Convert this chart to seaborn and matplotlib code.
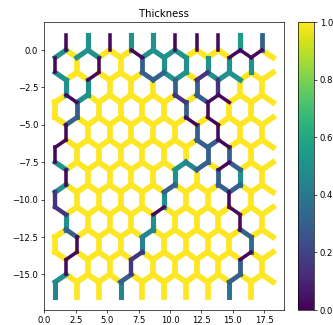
import numpy as np
import pandas as pd
import matplotlib
matplotlib.use("Agg")
import matplotlib.pyplot as plt
import seaborn as sns
from matplotlib.cm import ScalarMappable
from matplotlib.colors import Normalize

# ---- data: thickness of every beam of the honeycomb ----
# diagonal beams, one list per zig-zag row (20 beams each, left -> right)
diag_r0 = [.5, 1, .5, .5, 1, 1, 1, .02, .5, .5, .5, .5, 1, 1, 1, 1, .02, .02, .02, 1]
diag_r1 = [.5, 1, 1, .02, 1, 1, 1, 1, .3, .3, .5, .5, 1, .15, .5, .5, .5, 1, 1, 1]
diag_r2 = [1, .02, .5, 1, 1, 1, 1, 1, 1, 1, 1, .15, 1, .3, .02, .02, 1, 1, 1, 1]
diag_r3 = [1, .3, 1, 1, 1, 1, 1, 1, 1, 1, 1, 1, .02, 1, .02, 1, 1, 1, 1, 1]
diag_r4 = [.02, 1, 1, 1, 1, 1, 1, 1, 1, 1, 1, 1, 1, .3, .3, .02, 1, 1, 1, 1]
diag_r5 = [.5, 1, 1, 1, 1, 1, 1, 1, 1, 1, 1, .5, .45, .3, 1, .02, .3, 1, 1, 1]
diag_r6 = [.5, 1, 1, 1, 1, 1, 1, 1, 1, 1, .3, 1, 1, 1, 1, .3, .3, 1, 1, 1]
diag_r7 = [.15, 1, 1, 1, 1, 1, 1, 1, 1, .02, 1, 1, 1, 1, 1, 1, .02, 1, 1, 1]
diag_r8 = [1, .3, 1, 1, 1, 1, 1, 1, .45, 1, 1, 1, 1, 1, 1, 1, 1, .3, 1, 1]
diag_r9 = [1, .02, 1, 1, 1, 1, 1, .15, 1, 1, 1, 1, 1, 1, 1, 1, 1, .02, 1, 1]
diag_r10 = [.5, 1, 1, 1, 1, 1, .3, 1, 1, 1, 1, 1, 1, 1, 1, 1, .3, 1, 1, 1]

# vertical beams between zig-zag rows (10 each, left -> right)
vert_r0 = [.02, 1, .02, 1, .3, .5, .5, .5, .5, .5]
vert_r1 = [.5, .5, 1, 1, 1, .3, .3, .15, 1, 1]
vert_r2 = [1, .3, 1, 1, 1, 1, .3, .02, 1, 1]
vert_r3 = [.02, 1, 1, 1, 1, 1, .3, .02, 1, 1]
vert_r4 = [.02, 1, 1, 1, 1, 1, 1, .3, .3, 1]
vert_r5 = [.02, 1, 1, 1, 1, .5, 1, .3, .5, 1]
vert_r6 = [.15, 1, 1, 1, 1, .5, 1, 1, .02, 1]
vert_r7 = [.5, 1, 1, 1, .5, 1, 1, 1, .02, 1]
vert_r8 = [1, .02, 1, 1, .45, 1, 1, 1, 1, .35]
vert_r9 = [.02, 1, 1, .15, 1, 1, 1, 1, .3, 1]

# free beams sticking out at the top and at the bottom
top_stubs = [.02, .5, .02, .5, .5, .02, .02, .02, .55, .3]
bottom_stubs = [.45, 1, 1, .45, 1, 1, 1, 1, .38, 1]

diag_rows = [diag_r0, diag_r1, diag_r2, diag_r3, diag_r4, diag_r5,
             diag_r6, diag_r7, diag_r8, diag_r9, diag_r10]
vert_rows = [vert_r0, vert_r1, vert_r2, vert_r3, vert_r4,
             vert_r5, vert_r6, vert_r7, vert_r8, vert_r9]

# ---- honeycomb geometry ----
S3 = np.sqrt(3.0)


def node(i, j):
    x = i * S3 / 2
    y = -1.5 * j if (i + j) % 2 == 0 else -1.5 * j - 0.5
    return x, y


records = []
eid = 0


def add(p, q, t):
    global eid
    for (x, y) in (p, q):
        records.append({"edge": eid, "x": x, "y": y, "t": t, "w": t ** 0.3})
    eid += 1


for j, row in enumerate(diag_rows):
    for k, t in enumerate(row):
        i = k + 1
        add(node(i, j), node(i + 1, j), t)

for j, row in enumerate(vert_rows):
    idx = [i for i in range(1, 21) if (i + j) % 2 == 1]
    for i, t in zip(idx, row):
        add(node(i, j), node(i, j + 1), t)

for i, t in zip(range(2, 21, 2), top_stubs):
    x, y = node(i, 0)
    add((x, y), (x, y + 1), t)

for i, t in zip(range(1, 20, 2), bottom_stubs):
    x, y = node(i, 10)
    add((x, y), (x, y - 1), t)

df = pd.DataFrame(records)

# ---- figure ----
DPI = 61
fig = plt.figure(figsize=(333 / DPI, 325 / DPI), dpi=DPI)
ax = fig.add_axes([44.3 / 333, 15 / 325, 239.5 / 333, 288 / 325])

sns.lineplot(data=df, x="x", y="y", units="edge", estimator=None, sort=False,
             hue="t", hue_norm=(0, 1), palette="viridis",
             size="w", size_norm=(0, 1), sizes=(3.0, 6.8),
             legend=False, ax=ax)
# thin (weak) beams drawn above the thick ones so damaged paths stay visible
for ln in ax.get_lines():
    ln.set_solid_capstyle("projecting")
    ln.set_zorder(3 - ln.get_linewidth() / 10.0)

ax.margins(0.05)
ax.autoscale_view()
ax.set_xlabel("")
ax.set_ylabel("")
ax.set_title("Thickness")

cax = fig.add_axes([298 / 333, 15 / 325, 16 / 333, 288 / 325])
sm = ScalarMappable(norm=Normalize(0, 1), cmap="viridis")
sm.set_array([])
fig.colorbar(sm, cax=cax)

fig.savefig("out.png", dpi=DPI)
